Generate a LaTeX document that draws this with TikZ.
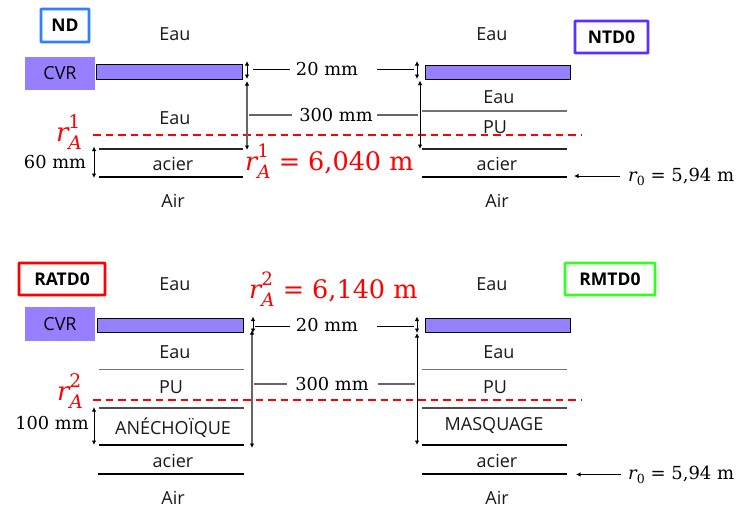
\documentclass[tikz,border=0pt]{standalone}
\usepackage{fontspec}
\setmainfont{Open Sans}
\newfontfamily\numfont{DejaVu Serif}
\usetikzlibrary{arrows.meta}
\definecolor{cvrfill}{HTML}{9680FF}
\definecolor{ndblue}{HTML}{2F80FF}
\definecolor{ntdpurple}{HTML}{5B2FFF}
\definecolor{ratred}{HTML}{FF0000}
\definecolor{rmtgreen}{HTML}{33FF22}
% r with a stacked sub- and superscript
\newcommand\rsym[2]{{\itshape r}\rlap{\raisebox{.52em}{\fontsize{.72em}{1em}\selectfont #2}}\raisebox{-.32em}{\fontsize{.72em}{1em}\selectfont\itshape #1}}
\newcommand\rzero{{\itshape r}\raisebox{-.25em}{\fontsize{.7em}{1em}\selectfont 0}}
\tikzset{
  lbl/.style={inner sep=0pt,yshift=-0.7pt,font=\fontsize{18}{20}\selectfont,text=black!90},
  tag/.style={draw,line width=2.8pt,inner sep=0pt,font=\fontsize{17.5}{20}\selectfont\bfseries,rounded corners=0.5pt},
  cvr/.style={fill=cvrfill,inner sep=0pt,font=\fontsize{18}{20}\selectfont},
  bar/.style={draw=black,fill=cvrfill,line width=0.9pt},
  dim/.style={inner sep=0pt,font=\fontsize{17.8}{20}\selectfont\numfont},
  rlab/.style={inner sep=0pt,text=red,font=\fontsize{26}{30}\selectfont\numfont},
  req/.style={inner sep=0pt,text=red,font=\fontsize{25.5}{30}\selectfont\numfont,anchor=west},
  rz/.style={inner sep=0pt,font=\fontsize{18}{20}\selectfont\numfont,anchor=west},
  thin layer/.style={draw=black!55,line width=1.1pt},
  steel/.style={draw=black,line width=1.7pt},
  mid/.style={draw=black!70,line width=1.1pt},
  dimarrow/.style={{Latex[length=4.5pt,width=4.5pt,black]}-{Latex[length=4.5pt,width=4.5pt,black]},line width=0.9pt},
  grayarrow/.style={dimarrow,draw=black!60,line width=1.2pt},
  lead/.style={draw=black,line width=0.9pt},
  graylead/.style={draw=black!60,line width=1.1pt},
  ptr/.style={{Latex[length=4.5pt,width=4.5pt]}-,line width=0.9pt},
  rline/.style={draw=red,dash pattern=on 7.5pt off 5pt,line width=1.2pt}
}
\begin{document}
\begin{tikzpicture}[x=1pt,y=-1pt]
\useasboundingbox (0,0) rectangle (738,511);
% tags
\node[tag,draw=ndblue,minimum width=48pt,minimum height=33pt] (nd) at (65,25.5) {ND};
\node[tag,draw=ntdpurple,minimum width=73pt,minimum height=32pt] (ntd) at (611.5,37) {NTD0};
\node[tag,draw=ratred,minimum width=86pt,minimum height=32pt] (rat) at (62,279) {RATD0};
\node[tag,draw=rmtgreen,minimum width=90pt,minimum height=32pt] (rmt) at (610,279) {RMTD0};
% CVR boxes
\node[cvr,minimum width=70pt,minimum height=33pt] (cvr1) at (60,73.5) {CVR};
\node[cvr,minimum width=70pt,minimum height=34pt] (cvr2) at (60,324) {CVR};
% top-left
\draw[bar] (96.5,64.5) rectangle (242,79.5);
\draw[rline] (93,135) -- (581,135);
\draw[steel,draw=black!85] (99,149) -- (243,149);
\draw[steel] (99,177) -- (243,177);
\node[lbl] (e1) at (175,33.5) {Eau};
\node[lbl] (e2) at (175,117.5) {Eau};
\node[lbl] (ac1) at (173,163) {acier};
\node[lbl] (ai1) at (173,200) {Air};
\draw[dimarrow] (247,61) -- (247,79);
\draw[grayarrow] (247,81) -- (247,150);
\node[dim] (d20a) at (327,69) {20 mm};
\node[dim] (d300a) at (336,115) {300 mm};
\draw[lead] (253,69.5) -- (290,69.5);
\draw[graylead] (249,115) -- (292,115);
\node[dim] (d60) at (55,162.5) {60 mm};
\draw[dimarrow] (94,146.5) -- (94,178);
\node[rlab] (ra1) at (69,132) {\rsym{A}{1}};
\node[req] (eq1) at (245,161) {\rsym{A}{1} = 6,040 m};
% top-right
\draw[bar] (425,65) rectangle (570.5,79.5);
\draw[thin layer] (422,111) -- (567,111);
\draw[steel,draw=black!85] (422,149) -- (567,149);
\draw[steel] (422,177) -- (567,177);
\node[lbl] (e3) at (492,33.5) {Eau};
\node[lbl] (e4) at (499,96.5) {Eau};
\node[lbl] (pu1) at (495,126) {PU};
\node[lbl] (ac2) at (497,163) {acier};
\node[lbl] (ai2) at (497,200) {Air};
\draw[dimarrow] (417,61) -- (417,79);
\draw[dimarrow] (420,80.5) -- (420,149);
\draw[lead] (377,69) -- (414,69);
\draw[graylead] (377,115) -- (418,115);
\node[rz] (r01) at (628,177) {\rzero{} = 5,94 m};
\draw[ptr] (574,176) -- (620,176);
% bottom-left
\draw[bar] (97.5,318.5) rectangle (243,332);
\draw[rline] (93,400) -- (581,400);
\draw[thin layer] (99,369.5) -- (244,369.5);
\draw[mid] (99,408) -- (244,408);
\draw[steel] (99,445) -- (244,445);
\draw[steel] (98,474) -- (244,474);
\node[lbl] (e5) at (175,283) {Eau};
\node[lbl] (e6) at (175,351.5) {Eau};
\node[lbl] (pu2) at (171,386) {PU};
\node[lbl] (an) at (173,427) {ANÉCHOÏQUE};
\node[lbl] (ac3) at (173,460) {acier};
\node[lbl] (ai3) at (173,497) {Air};
\draw[dimarrow] (253,316.5) -- (253,333);
\draw[grayarrow] (252,330) -- (252,448);
\node[dim] (d20b) at (327,325) {20 mm};
\node[dim] (d300b) at (332,384) {300 mm};
\draw[lead] (255,326) -- (290,326);
\draw[graylead] (254,384) -- (287,384);
\node[dim] (d100) at (52,423) {100 mm};
\draw[dimarrow] (94,407) -- (94,445);
\node[rlab] (ra2) at (70,391) {\rsym{A}{2}};
\node[req] (eq2) at (249,289) {\rsym{A}{2} = 6,140 m};
% bottom-right
\draw[bar] (425,318.5) rectangle (570.5,332);
\draw[thin layer] (422,369.5) -- (567,369.5);
\draw[mid] (422,408) -- (567,408);
\draw[steel] (422,445) -- (567,445);
\draw[steel] (422,474) -- (567,474);
\node[lbl] (e7) at (492,283) {Eau};
\node[lbl] (e8) at (499,351.5) {Eau};
\node[lbl] (pu3) at (495,386) {PU};
\node[lbl] (ma) at (494,425) {MASQUAGE};
\node[lbl] (ac4) at (497,460) {acier};
\node[lbl] (ai4) at (497,497) {Air};
\draw[dimarrow] (417,316.5) -- (417,333);
\draw[dimarrow] (417,333) -- (417,445);
\draw[lead] (377,326) -- (414,326);
\draw[graylead] (378,384) -- (415,384);
\node[rz] (r02) at (628,475) {\rzero{} = 5,94 m};
\draw[ptr] (576,474.5) -- (621,474.5);
\end{tikzpicture}
\end{document}
